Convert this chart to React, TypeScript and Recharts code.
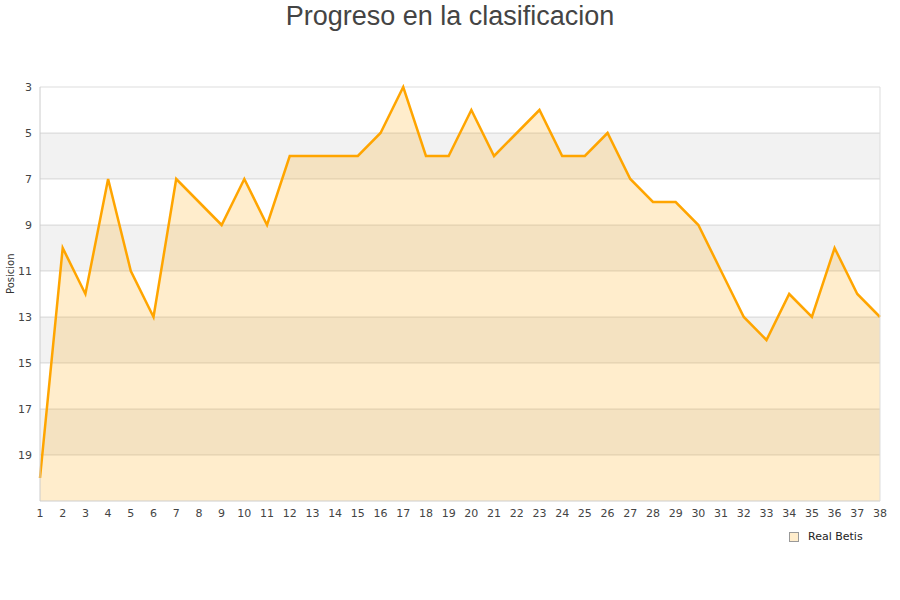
import { AreaChart, Area, XAxis, YAxis, CartesianGrid, ReferenceArea, ReferenceLine, Legend } from 'recharts';

const jornadas = Array.from({ length: 38 }, (_, i) => i + 1);
const posiciones = [20, 10, 12, 7, 11, 13, 7, 8, 9, 7, 9, 6, 6, 6, 6, 5, 3, 6, 6, 4, 6, 5, 4, 6, 6, 5, 7, 8, 8, 9, 11, 13, 14, 12, 13, 10, 12, 13];
const yTicks = [3, 5, 7, 9, 11, 13, 15, 17, 19];
const bandas = [[5, 7], [9, 11], [13, 15], [17, 19]];

const data = jornadas.map((j, i) => ({ jornada: j, pos: posiciones[i] }));

const LegendBox = () => (
    <div style={{ display: 'flex', alignItems: 'center', fontFamily: 'DejaVu Sans', fontSize: 11, color: '#222' }}>
        <span style={{ width: 8, height: 8, background: '#ffedcc', border: '1px solid #999', marginRight: 9, display: 'inline-block' }} />
        Real Betis
    </div>
);

export default function App() {
    return (
        <div style={{ position: 'absolute', left: 0, top: 0, width: 900, height: 600, background: '#fff' }}>
            <div style={{ position: 'absolute', top: 0, width: 900, textAlign: 'center', fontFamily: 'Liberation Sans', fontSize: 27, color: '#444', lineHeight: '32px' }}>
                Progreso en la clasificacion
            </div>
            <AreaChart width={900} height={600} data={data} margin={{ top: 87, right: 20, left: 0, bottom: 70 }}>
                {bandas.map(([a, b]) => (
                    <ReferenceArea key={a} y1={a} y2={b} fill="#000" fillOpacity={0.05} stroke="none" ifOverflow="visible" />
                ))}
                <CartesianGrid horizontal vertical={false} stroke="#ddd" />
                <XAxis
                    dataKey="jornada"
                    type="number"
                    domain={[1, 38]}
                    ticks={jornadas}
                    interval={0}
                    height={16}
                    axisLine={{ stroke: '#ddd' }}
                    tickLine={false}
                    tick={{ fill: '#444', fontSize: 11, fontFamily: 'DejaVu Sans' }}
                    dy={0}
                />
                <YAxis
                    reversed
                    type="number"
                    domain={[3, 21]}
                    ticks={yTicks}
                    interval={0}
                    width={40}
                    axisLine={{ stroke: '#ccc' }}
                    tickLine={false}
                    tick={{ fill: '#444', fontSize: 11, fontFamily: 'DejaVu Sans' }}
                    label={{ value: 'Posicion', angle: -90, position: 'insideLeft', offset: 10, fontSize: 10, fontFamily: 'DejaVu Sans', fill: '#333' }}
                />
                <ReferenceLine x={38} stroke="#ddd" />
                <Area
                    type="linear"
                    dataKey="pos"
                    name="Real Betis"
                    baseValue={21}
                    stroke="#ffa500"
                    strokeWidth={2.5}
                    fill="#ffa500"
                    fillOpacity={0.2}
                    dot={false}
                    activeDot={false}
                    isAnimationActive={false}
                />
                <Legend content={<LegendBox />} wrapperStyle={{ left: 789, top: 530, width: 100 }} />
            </AreaChart>
        </div>
    );
}
